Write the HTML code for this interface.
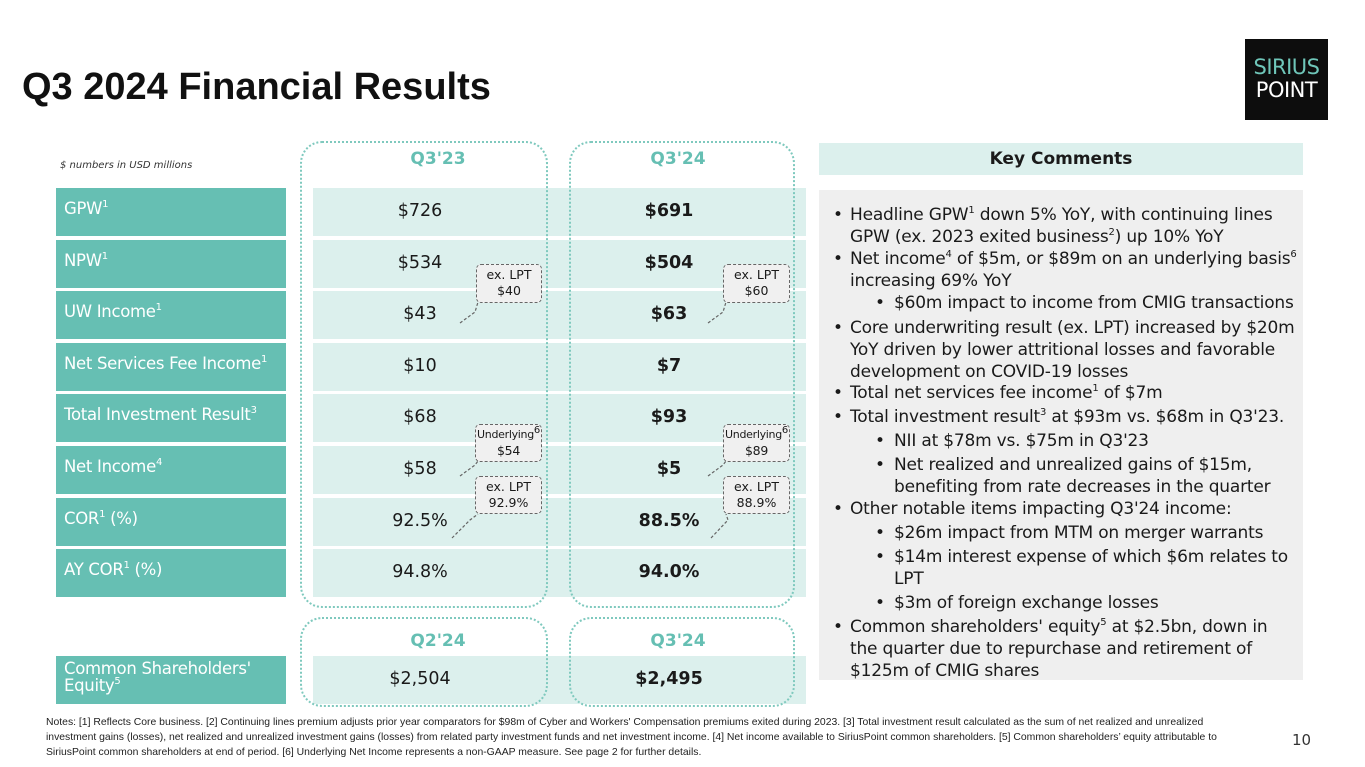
<!DOCTYPE html>
<html><head><meta charset="utf-8">
<style>
*{margin:0;padding:0;box-sizing:border-box}
body{width:1365px;height:767px;background:#fff;position:relative;overflow:hidden;font-family:"DejaVu Sans","Liberation Sans",sans-serif;color:#1a1a1a}
.abs{position:absolute}
.lbl{position:absolute;left:56px;width:230px;background:#66bfb3;color:#fff;font-size:16.5px;padding-left:8px;height:48px;line-height:42px;letter-spacing:-0.3px}
.band{position:absolute;left:313px;width:493px;background:#dcf0ed;height:48px}
.v{position:absolute;font-size:17.5px;text-align:center;width:160px;line-height:20px}
.b{font-weight:bold}
sup{font-size:10px;vertical-align:top;position:relative;top:-4px}
.hdr{position:absolute;font-size:17px;font-weight:bold;color:#66bfb3;text-align:center;width:160px}
.call{position:absolute;border:1.5px dashed #666;border-radius:5px;background:#f0f0f0;font-size:12.5px;text-align:center;line-height:16px;padding-top:2px;z-index:3}
.cl{position:absolute;font-size:17px;line-height:22px;letter-spacing:-0.2px;white-space:nowrap}
.dot{position:absolute;border:2px dotted #7fc9be;border-radius:22px;z-index:2}
</style></head><body>
<div class="abs" style="left:22px;top:66px;font-family:'Liberation Sans',sans-serif;font-weight:bold;font-size:38px;color:#111">Q3 2024 Financial Results</div>
<div class="abs" style="left:1245px;top:39px;width:83px;height:81px;background:#0d0d0d;color:#fff;text-align:center;font-size:21px;line-height:23px;padding-top:17px;letter-spacing:-0.5px"><span style="color:#6fc6b9">SIRIUS</span><br>POINT</div>
<div class="abs" style="left:60px;top:160px;font-size:10px;font-style:italic;color:#333">$ numbers in USD millions</div>

<div class="dot" style="left:300px;top:141px;width:248px;height:467px"></div>
<div class="dot" style="left:569px;top:141px;width:226px;height:467px"></div>
<div class="dot" style="left:300px;top:617px;width:248px;height:90px"></div>
<div class="dot" style="left:569px;top:617px;width:226px;height:90px"></div>

<div class="hdr" style="left:358px;top:149px">Q3'23</div>
<div class="hdr" style="left:598px;top:149px">Q3'24</div>
<div class="hdr" style="left:358px;top:631px">Q2'24</div>
<div class="hdr" style="left:598px;top:631px">Q3'24</div>

<div id="rows"></div>
<script>
const labels=["GPW<sup>1</sup>","NPW<sup>1</sup>","UW Income<sup>1</sup>","Net Services Fee Income<sup>1</sup>","Total Investment Result<sup>3</sup>","Net Income<sup>4</sup>","COR<sup>1</sup> (%)","AY COR<sup>1</sup> (%)"];
const q323=["$726","$534","$43","$10","$68","$58","92.5%","94.8%"];
const q324=["$691","$504","$63","$7","$93","$5","88.5%","94.0%"];
const rowNames=["gpw","npw","uw-income","net-services-fee","total-investment","net-income","cor","ay-cor"];
const host=document.getElementById('rows');
labels.forEach((l,i)=>{
  const y=188+i*51.6;
  const a=document.createElement('div');a.className='lbl';a.style.top=y+'px';a.innerHTML=l;
  
  
  host.appendChild(a);
  const b=document.createElement('div');b.className='band';b.style.top=y+'px';
  
  
  host.appendChild(b);
  const c=document.createElement('div');c.className='v';c.style.left='340px';c.style.top=(y+13)+'px';c.textContent=q323[i];
  
  
  host.appendChild(c);
  const d=document.createElement('div');d.className='v b';d.style.left='589px';d.style.top=(y+13)+'px';d.textContent=q324[i];
  
  
  host.appendChild(d);
});
</script>
<div class="lbl" style="top:656px;line-height:17px;padding-top:4px">Common Shareholders'<br>Equity<sup>5</sup></div>
<div class="band" style="top:656px"></div>
<div class="v" style="left:340px;top:669px">$2,504</div>
<div class="v b" style="left:589px;top:669px">$2,495</div>

<svg class="abs" style="left:0;top:0;z-index:3" width="1365" height="767">
<g stroke="#666" stroke-width="1.2" stroke-dasharray="3,2" fill="none">
<path d="M460 323 L475 312 L478 302"/><path d="M708 323 L723 312 L726 302"/>
<path d="M460 476 L475 465 L478 461"/><path d="M708 476 L723 465 L726 461"/>
<path d="M452 538 L470 520 L478 514"/><path d="M711 538 L728 520 L726 514"/>
</g></svg>
<div class="call" style="left:476px;top:264px;width:66px;height:39px">ex. LPT<br>$40</div>
<div class="call" style="left:723px;top:264px;width:67px;height:39px">ex. LPT<br>$60</div>
<div class="call" style="left:475px;top:424px;width:67px;height:38px;font-size:11px;letter-spacing:-0.3px">Underlying<sup>6</sup><br><span style="font-size:12.5px">$54</span></div>
<div class="call" style="left:723px;top:424px;width:67px;height:38px;font-size:11px;letter-spacing:-0.3px">Underlying<sup>6</sup><br><span style="font-size:12.5px">$89</span></div>
<div class="call" style="left:475px;top:476px;width:67px;height:38px">ex. LPT<br>92.9%</div>
<div class="call" style="left:723px;top:476px;width:67px;height:38px">ex. LPT<br>88.9%</div>

<div class="abs" style="left:819px;top:143px;width:484px;height:32px;background:#dcf0ed;text-align:center;font-weight:bold;font-size:17px;line-height:32px">Key Comments</div>
<div class="abs" style="left:819px;top:190px;width:484px;height:490px;background:#efefef">
<div class="cl" style="left:14px;top:14px">•</div><div class="cl" style="left:31px;top:14px">Headline GPW<sup>1</sup> down 5% YoY, with continuing lines<br>GPW (ex. 2023 exited business<sup>2</sup>) up 10% YoY</div>
<div class="cl" style="left:14px;top:58px">•</div><div class="cl" style="left:31px;top:58px">Net income<sup>4</sup> of $5m, or $89m on an underlying basis<sup>6</sup><br>increasing 69% YoY</div>
<div class="cl" style="left:56px;top:102px">•</div><div class="cl" style="left:75px;top:102px">$60m impact to income from CMIG transactions</div>
<div class="cl" style="left:14px;top:127px">•</div><div class="cl" style="left:31px;top:127px">Core underwriting result (ex. LPT) increased by $20m<br>YoY driven by lower attritional losses and favorable<br>development on COVID-19 losses</div>
<div class="cl" style="left:14px;top:192px">•</div><div class="cl" style="left:31px;top:192px">Total net services fee income<sup>1</sup> of $7m</div>
<div class="cl" style="left:14px;top:216px">•</div><div class="cl" style="left:31px;top:216px">Total investment result<sup>3</sup> at $93m vs. $68m in Q3'23.</div>
<div class="cl" style="left:56px;top:240px">•</div><div class="cl" style="left:75px;top:240px">NII at $78m vs. $75m in Q3'23</div>
<div class="cl" style="left:56px;top:264px">•</div><div class="cl" style="left:75px;top:264px">Net realized and unrealized gains of $15m,<br>benefiting from rate decreases in the quarter</div>
<div class="cl" style="left:14px;top:308px">•</div><div class="cl" style="left:31px;top:308px">Other notable items impacting Q3'24 income:</div>
<div class="cl" style="left:56px;top:332px">•</div><div class="cl" style="left:75px;top:332px">$26m impact from MTM on merger warrants</div>
<div class="cl" style="left:56px;top:356px">•</div><div class="cl" style="left:75px;top:356px">$14m interest expense of which $6m relates to<br>LPT</div>
<div class="cl" style="left:56px;top:402px">•</div><div class="cl" style="left:75px;top:402px">$3m of foreign exchange losses</div>
<div class="cl" style="left:14px;top:426px">•</div><div class="cl" style="left:31px;top:426px">Common shareholders' equity<sup>5</sup> at $2.5bn, down in<br>the quarter due to repurchase and retirement of<br>$125m of CMIG shares</div>
</div>

<div class="abs" style="left:46px;top:715px;width:1195px;font-family:'Liberation Sans',sans-serif;font-size:10.4px;line-height:15px;color:#222">Notes: [1] Reflects Core business. [2] Continuing lines premium adjusts prior year comparators for $98m of Cyber and Workers' Compensation premiums exited during 2023. [3] Total investment result calculated as the sum of net realized and unrealized investment gains (losses), net realized and unrealized investment gains (losses) from related party investment funds and net investment income. [4] Net income available to SiriusPoint common shareholders. [5] Common shareholders’ equity attributable to SiriusPoint common shareholders at end of period. [6] Underlying Net Income represents a non-GAAP measure. See page 2 for further details.</div>
<div class="abs" style="left:1292px;top:731px;font-size:15px;color:#333">10</div>
</body></html>
